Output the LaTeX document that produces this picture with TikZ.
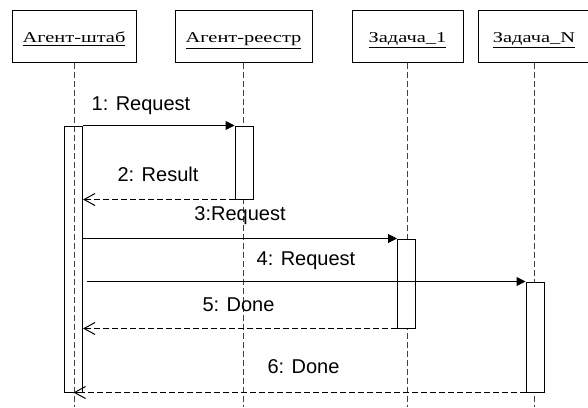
\documentclass[tikz,border=0pt]{standalone}
\usepackage{fontspec}
\setmainfont{Liberation Serif}
\setsansfont{Liberation Sans}
\usetikzlibrary{arrows.meta}
\newcommand{\hdtxt}[1]{\scalebox{1.36}[1]{\underline{#1}}}

\begin{document}
\begin{tikzpicture}[x=0.5pt,y=-0.5pt,
  head/.style={draw, line width=0.5pt, minimum height=26pt, inner sep=0pt,
    text height=7pt, text depth=1pt, font=\fontsize{7.5}{9}\selectfont},
  bar/.style={draw, fill=white, line width=0.5pt, minimum width=9pt, inner sep=0pt},
  life/.style={black!75, line width=0.4pt, dash pattern=on 3pt off 1.5pt},
  call/.style={line width=0.5pt, -{Triangle[length=4.5pt,width=4.5pt]}},
  back/.style={line width=0.5pt, dash pattern=on 3pt off 1.5pt,
    -{Straight Barb[length=5.5pt,width=6pt]}},
  lbl/.style={anchor=base, font=\sffamily\fontsize{10}{12}\selectfont}]
\useasboundingbox (0,0) rectangle (588,407);
\coordinate (bot) at (0,407);
% heads
\node[head, minimum width=62pt] (shtab) at (74,36) {\hdtxt{Агент-штаб}};
\node[head, minimum width=68.5pt] (reestr) at (243.5,36) {\hdtxt{Агент-реестр}};
\node[head, minimum width=55.5pt] (zad1) at (407.5,36) {\hdtxt{Задача\_1}};
\node[head, minimum width=56pt] (zadN) at (534,36) {\hdtxt{Задача\_N}};
% lifelines
\foreach \h in {shtab,reestr,zad1,zadN}
  \draw[life] (\h.south) -- (\h.south |- bot);
% activations
\node[bar, fill=none, minimum height=133pt] (b1) at (73.5,259) {};
\node[bar, minimum height=36.5pt] (b2) at (244,162.5) {};
\node[bar, minimum height=44.5pt] (b3) at (406.5,283.5) {};
\node[bar, minimum height=55pt] (b4) at (535,337) {};
% messages
\draw[call] (b1.north east) -- (b2.north west);
\draw[back] (b2.south west) -- (b1.east |- b2.south);
\draw[call] (b1.east |- b3.north) -- (b3.north west);
\draw[call] ([xshift=2pt]b1.east |- b4.north) -- (b4.north west);
\draw[back] (b3.south west) -- (b1.east |- b3.south);
\draw[back] (b4.south west) -- (b1.south);
% labels
\node[lbl] (t1) at (141,110) {1: Request};
\node[lbl] (t2) at (158,181) {2: Result};
\node[lbl] (t3) at (240,220) {3:Request};
\node[lbl] (t4) at (306,265) {4: Request};
\node[lbl] (t5) at (238.5,311) {5: Done};
\node[lbl] (t6) at (303.5,373) {6: Done};
\end{tikzpicture}
\end{document}
